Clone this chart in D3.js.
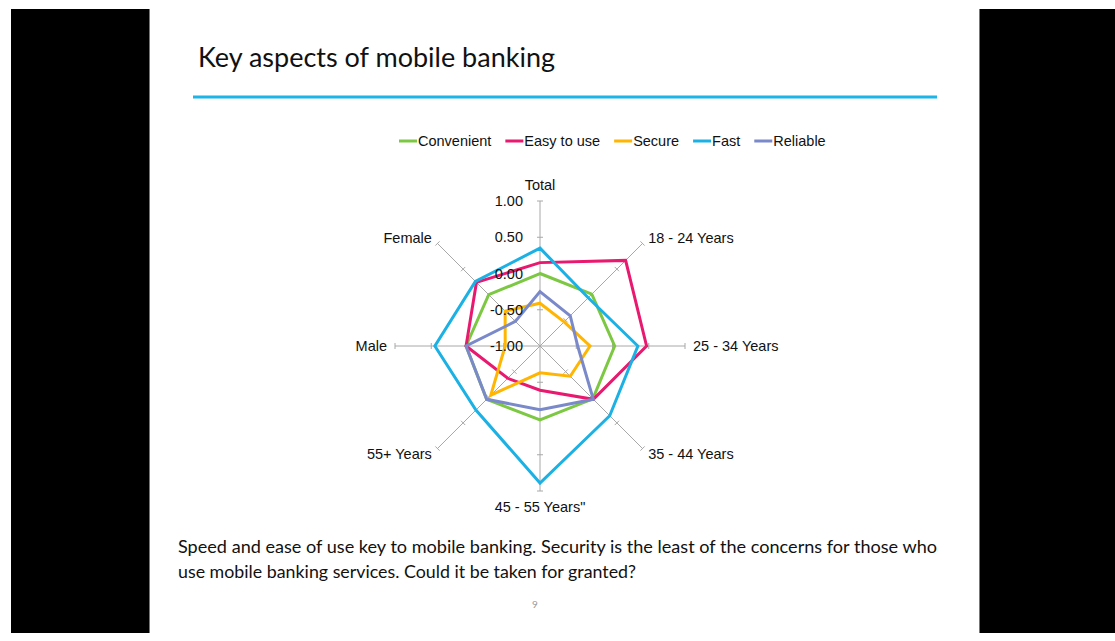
<!DOCTYPE html>
<html>
<head>
<meta charset="utf-8">
<script src="https://cdn.jsdelivr.net/npm/d3@7"></script>
<style>
  html, body { margin: 0; padding: 0; background: #fff; }
  svg { display: block; }
</style>
</head>
<body>
<svg id="chart" width="1115" height="641"></svg>
<script>
// ---------- data ----------
const categories = ["Total", "18 - 24 Years", "25 - 34 Years", "35 - 44 Years", "45 - 55 Years\"", "55+ Years", "Male", "Female"];
const seriesNames = ["Convenient", "Easy to use", "Secure", "Fast", "Reliable"];
const convenient = [0.00, 0.01, 0.03, 0.03, 0.02, 0.04, 0.02, 0.00];
const easyToUse  = [0.15, 0.67, 0.47, 0.04, -0.39, -0.37, 0.02, 0.24];
const secure     = [-0.41, -0.53, -0.31, -0.41, -0.63, -0.04, -0.52, -0.32];
const fast       = [0.35, -0.06, 0.35, 0.36, 0.89, 0.25, 0.45, 0.26];
const reliable   = [-0.25, -0.41, -0.48, 0.04, -0.12, 0.04, 0.02, -0.52];
const tickValues = [-1.00, -0.50, 0.00, 0.50, 1.00];
const tickLabels = ["-1.00", "-0.50", "0.00", "0.50", "1.00"];
const colors = ["#7DC843", "#E8196F", "#FFB502", "#1BB1E4", "#7A89C9"];
const titleText = "Key aspects of mobile banking";
const bodyLines = ["Speed and ease of use key to mobile banking. Security is the least of the concerns for those who",
                   "use mobile banking services.  Could it be taken for granted?"];
const pageNumber = "9";

const seriesValues = [convenient, easyToUse, secure, fast, reliable];
const series = seriesNames.map((name, i) => ({ name, color: colors[i], values: seriesValues[i] }));

// ---------- page ----------
const svg = d3.select("#chart");
svg.append("rect").attr("width", 1115).attr("height", 641).attr("fill", "#fff");
svg.append("rect").attr("x", 11).attr("y", 9).attr("width", 138).attr("height", 624).attr("fill", "#000");
svg.append("rect").attr("x", 980).attr("y", 9).attr("width", 135).attr("height", 624).attr("fill", "#000");
svg.append("line").attr("x1", 149.5).attr("x2", 149.5).attr("y1", 9).attr("y2", 633).attr("stroke", "#777");
svg.append("line").attr("x1", 979.5).attr("x2", 979.5).attr("y1", 9).attr("y2", 633).attr("stroke", "#777");

svg.append("text").attr("x", 198).attr("y", 67)
  .attr("font-family", "Lato, 'Open Sans', sans-serif").attr("font-size", 27).attr("fill", "#111")
  .attr("textLength", 357).attr("lengthAdjust", "spacingAndGlyphs")
  .text(titleText);
svg.append("rect").attr("x", 193).attr("y", 95.5).attr("width", 744).attr("height", 3).attr("fill", "#1DB4E8");

const bodyLens = [759, 458];
bodyLines.forEach((t, i) => {
  svg.append("text").attr("x", 178).attr("y", 553 + i * 24.5)
    .attr("font-family", "Lato, 'Open Sans', sans-serif").attr("font-size", 18).attr("fill", "#111")
    .attr("textLength", bodyLens[i]).attr("lengthAdjust", "spacingAndGlyphs")
    .text(t);
});
svg.append("text").attr("x", 535).attr("y", 608).attr("text-anchor", "middle")
  .attr("font-family", "Lato, sans-serif").attr("font-size", 10).attr("fill", "#999").text(pageNumber);

// ---------- radar ----------
const cx = 540, cy = 346, R = 145;
const rScale = d3.scaleLinear().domain([-1, 1]).range([0, R]);
const angle = d3.scalePoint().domain(d3.range(categories.length)).range([0, 2 * Math.PI * (categories.length - 1) / categories.length]);
const g = svg.append("g").attr("transform", `translate(${cx},${cy})`);
const font = "'Liberation Sans', Arial, sans-serif";
const fs = 14.5;

// spokes
categories.forEach((c, i) => {
  const a = angle(i);
  const dx = Math.sin(a), dy = -Math.cos(a);
  g.append("line").attr("x1", 0).attr("y1", 0).attr("x2", dx * R).attr("y2", dy * R)
    .attr("stroke", "#A8A8A8").attr("stroke-width", 1);
  // tick marks
  tickValues.slice(1).forEach(v => {
    const r = rScale(v);
    const px = dx * r, py = dy * r;
    const nx = -dy, ny = dx;
    g.append("line").attr("x1", px - nx * 3).attr("y1", py - ny * 3).attr("x2", px + nx * 3).attr("y2", py + ny * 3)
      .attr("stroke", "#A8A8A8").attr("stroke-width", 1);
  });
  // category labels
  let lr = 153;
  const lx = dx * lr;
  let ly = dy * lr;
  if (Math.abs(dx) < 0.01) ly += dy * 8;
  const anchor = dx > 0.01 ? "start" : (dx < -0.01 ? "end" : "middle");
  g.append("text").attr("x", lx).attr("y", ly).attr("text-anchor", anchor)
    .attr("dominant-baseline", "central")
    .attr("font-family", font).attr("font-size", fs).attr("fill", "#111").text(c);
});

// series lines
const line = d3.lineRadial()
  .angle((d, i) => angle(i))
  .radius(d => rScale(d))
  .curve(d3.curveLinearClosed);

series.forEach(s => {
  g.append("path").attr("d", line(s.values))
    .attr("fill", "none").attr("stroke", s.color).attr("stroke-width", 3)
    .attr("stroke-linejoin", "miter");
});

// value axis labels
tickValues.forEach((v, i) => {
  g.append("text").attr("x", -17).attr("y", -rScale(v)).attr("text-anchor", "end")
    .attr("dominant-baseline", "central")
    .attr("font-family", font).attr("font-size", fs).attr("fill", "#111").text(tickLabels[i]);
});

// ---------- legend ----------
const legend = svg.append("g").attr("transform", "translate(399,141)");
let x = 0;
series.forEach(s => {
  const item = legend.append("g").attr("transform", `translate(${x},0)`);
  item.append("line").attr("x1", 0).attr("x2", 18).attr("y1", 0).attr("y2", 0)
    .attr("stroke", s.color).attr("stroke-width", 3);
  const t = item.append("text").attr("x", 19).attr("y", 0).attr("dominant-baseline", "central")
    .attr("font-family", font).attr("font-size", fs).attr("fill", "#111").text(s.name);
  x += 19 + t.node().getComputedTextLength() + 14;
});
</script>
</body>
</html>
